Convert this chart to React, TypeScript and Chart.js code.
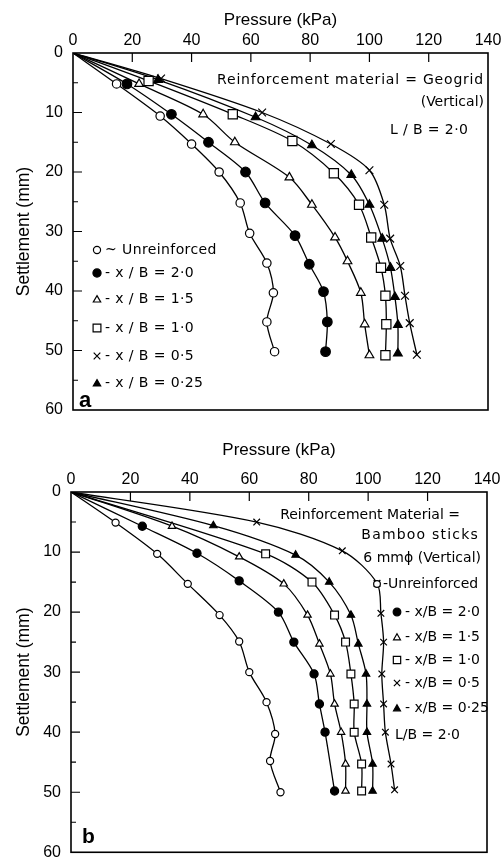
import React, { useEffect, useRef } from 'react';
import { Chart, registerables } from 'chart.js';

Chart.register(...registerables);

// ---------- data ----------
const pressureTicks = [0, 20, 40, 60, 80, 100, 120, 140];
const settlementTicks = [0, 10, 20, 30, 40, 50, 60];
const seriesLabels = ['Unreinforced', 'x/B = 2·0', 'x/B = 1·5', 'x/B = 1·0', 'x/B = 0·5', 'x/B = 0·25'];

// Panel a – Geogrid (vertical)
const aUnrP = [0, 14.7, 29.4, 40, 49.3, 56.4, 59.6, 65.4, 67.6, 65.4, 68];
const aUnrS = [0, 5.2, 10.6, 15.3, 20, 25.2, 30.3, 35.3, 40.3, 45.2, 50.2];
const aXB20P = [0, 18.2, 33.2, 45.7, 58.2, 64.8, 74.9, 79.7, 84.5, 85.8, 85.2];
const aXB20S = [0, 5.2, 10.3, 15, 20, 25.2, 30.7, 35.5, 40.1, 45.2, 50.2];
const aXB15P = [0, 22.3, 43.9, 54.6, 73, 80.6, 88.4, 92.6, 97.1, 98.4, 100];
const aXB15S = [0, 5.2, 10.3, 15, 20.9, 25.5, 31, 35, 40.3, 45.6, 50.8];
const aXB10P = [0, 25.5, 53.9, 74, 88, 96.5, 100.6, 103.9, 105.4, 105.7, 105.4];
const aXB10S = [0, 4.7, 10.3, 14.8, 20.2, 25.5, 31, 36.1, 40.8, 45.6, 50.8];
const aXB05P = [0, 29.7, 63.8, 87, 100, 105, 107, 110.4, 112, 113.6, 116];
const aXB05S = [0, 4.3, 10, 15.3, 19.7, 25.5, 31.2, 35.8, 40.8, 45.4, 50.7];
const aXB025P = [0, 28.7, 61.6, 80.6, 93.9, 100, 104.3, 107.1, 108.6, 109.6, 109.6];
const aXB025S = [0, 4.5, 10.8, 15.5, 20.5, 25.5, 31.2, 36.1, 41, 45.7, 50.5];

// Panel b – Bamboo sticks 6 mm (vertical)
const bUnrP = [0, 15, 29, 39.3, 50, 56.6, 60, 65.8, 68.7, 67, 70.5];
const bUnrS = [0, 5.1, 10.3, 15.3, 20.5, 24.9, 30, 35, 40.3, 44.8, 50];
const bXB20P = [0, 24, 42.4, 56.6, 69.8, 75, 81.8, 83.6, 85.5, 88.7];
const bXB20S = [0, 5.7, 10.2, 14.8, 20, 25, 30.3, 35.3, 40, 49.8];
const bXB15P = [0, 34, 56.6, 71.6, 79.6, 83.6, 87.3, 88.7, 90.9, 92.4, 92.4];
const bXB15S = [0, 5.7, 10.8, 15.3, 20.5, 25.3, 30.3, 35.3, 40, 45.3, 49.8];
const bXB10P = [0, 65.5, 81.1, 88.7, 92.4, 94.2, 95.3, 95.3, 97.8, 97.8];
const bXB10S = [0, 10.3, 15, 20.5, 25, 30.3, 35.3, 40, 45.3, 49.8];
const bXB05P = [0, 62.5, 91.3, 103, 104.3, 105.2, 104.6, 105.2, 105.8, 107.7, 108.9];
const bXB05S = [0, 5, 9.8, 15.2, 20.2, 25, 30.3, 35.3, 40, 45.3, 49.6];
const bXB025P = [0, 47.9, 75.6, 86.9, 94.2, 96.7, 99.3, 99.6, 99.6, 101.5, 101.5];
const bXB025S = [0, 5.6, 10.5, 15, 20.5, 25.3, 30.3, 35.3, 40, 45.3, 49.8];

// ---------- styles ----------
const markerStyles = [
  { style: 'circle', fill: '#fff', r: 4.2 },
  { style: 'circle', fill: '#000', r: 4.8 },
  { style: 'triangle', fill: '#fff', r: 5 },
  { style: 'rect', fill: '#fff', r: 6.5 },
  { style: 'crossRot', fill: '#fff', r: 5.5 },
  { style: 'triangle', fill: '#000', r: 5 },
];

const FONT = '"Liberation Sans", Arial, sans-serif';
const ANN = '"DejaVu Sans", sans-serif';

function drawMarker(ctx: CanvasRenderingContext2D, i: number, x: number, y: number, k: number) {
  const st = markerStyles[i];
  const r = st.r * k;
  ctx.save();
  ctx.lineWidth = 1.2;
  ctx.strokeStyle = '#000';
  ctx.fillStyle = st.fill;
  ctx.beginPath();
  if (st.style === 'circle') {
    ctx.arc(x, y, r, 0, Math.PI * 2);
    ctx.fill();
    ctx.stroke();
  } else if (st.style === 'triangle') {
    for (let j = 0; j < 3; j++) {
      const a = -Math.PI / 2 + (j * 2 * Math.PI) / 3;
      const px = x + Math.cos(a) * r;
      const py = y + Math.sin(a) * r + r * 0.2;
      if (j === 0) ctx.moveTo(px, py);
      else ctx.lineTo(px, py);
    }
    ctx.closePath();
    ctx.fill();
    ctx.stroke();
  } else if (st.style === 'rect') {
    const s = r * Math.SQRT1_2;
    ctx.rect(x - s, y - s, 2 * s, 2 * s);
    ctx.fill();
    ctx.stroke();
  } else {
    const s = r * Math.SQRT1_2;
    ctx.moveTo(x - s, y - s);
    ctx.lineTo(x + s, y + s);
    ctx.moveTo(x + s, y - s);
    ctx.lineTo(x - s, y + s);
    ctx.stroke();
  }
  ctx.restore();
}

function makeDatasets(series: { p: number[]; s: number[] }[], k: number) {
  return series.map((sr, i) => ({
    label: seriesLabels[i],
    data: sr.p.map((p, j) => ({ x: p, y: sr.s[j] })),
    showLine: true,
    borderColor: '#000',
    borderWidth: 1.3,
    tension: 0.3,
    pointStyle: markerStyles[i].style,
    pointBackgroundColor: markerStyles[i].fill,
    pointBorderColor: '#000',
    pointBorderWidth: 1.2,
    pointRadius: (c: any) => (c.dataIndex === 0 ? 0 : markerStyles[i].r * k),
  }));
}

function framePlugin(annotate: (ctx: CanvasRenderingContext2D) => void) {
  return {
    id: 'frame',
    afterDraw(chart: any) {
      const { ctx, chartArea: a, scales } = chart;
      ctx.save();
      ctx.strokeStyle = '#000';
      ctx.lineWidth = 1.6;
      ctx.strokeRect(a.left, a.top, a.right - a.left, a.bottom - a.top);
      ctx.lineWidth = 1.2;
      ctx.beginPath();
      pressureTicks.forEach((v) => {
        if (v === 0 || v === 140) return;
        const x = scales.x.getPixelForValue(v);
        ctx.moveTo(x, a.top);
        ctx.lineTo(x, a.top + 9);
      });
      for (let v = 5; v < 60; v += 5) {
        const y = scales.y.getPixelForValue(v);
        const len = v % 10 === 0 ? 9 : 5;
        ctx.moveTo(a.left, y);
        ctx.lineTo(a.left + len, y);
      }
      ctx.stroke();
      ctx.fillStyle = '#000';
      annotate(ctx);
      ctx.restore();
    },
  };
}

function makeConfig(series: { p: number[]; s: number[] }[], k: number, xH: number, yW: number, pad: any, annotate: any) {
  return {
    type: 'scatter',
    data: { datasets: makeDatasets(series, k) },
    options: {
      animation: false,
      responsive: false,
      devicePixelRatio: 1,
      layout: { padding: pad },
      plugins: { legend: { display: false }, tooltip: { enabled: false } },
      scales: {
        x: {
          type: 'linear',
          position: 'top',
          min: 0,
          max: 140,
          afterBuildTicks: (s: any) => {
            s.ticks = pressureTicks.map((v) => ({ value: v }));
          },
          ticks: { padding: 3, color: '#000', font: { size: 16, family: FONT } },
          grid: { display: false, drawTicks: false },
          border: { display: false },
          title: { display: true, text: 'Pressure (kPa)', color: '#000', font: { size: 17, family: FONT }, padding: { top: 10, bottom: 0 } },
          afterFit: (s: any) => {
            s.height = xH;
            s.paddingLeft = 0;
            s.paddingRight = 0;
          },
        },
        y: {
          type: 'linear',
          reverse: true,
          min: 0,
          max: 60,
          afterBuildTicks: (s: any) => {
            s.ticks = settlementTicks.map((v) => ({ value: v }));
          },
          ticks: { padding: 10, color: '#000', font: { size: 16, family: FONT } },
          grid: { display: false, drawTicks: false },
          border: { display: false },
          title: { display: true, text: 'Settlement (mm)', color: '#000', font: { size: 17.5, family: FONT }, padding: { top: 14, bottom: 0 } },
          afterFit: (s: any) => {
            s.width = yW;
            s.paddingTop = 0;
            s.paddingBottom = 0;
          },
        },
      },
    },
    plugins: [framePlugin(annotate)],
  };
}

const annotateA = (ctx: CanvasRenderingContext2D) => {
  ctx.font = `14px ${ANN}`;
  ctx.textBaseline = 'middle';
  ctx.textAlign = 'right';
  (ctx as any).letterSpacing = '0.8px';
  ctx.fillText('Reinforcement material = Geogrid', 484, 80);
  (ctx as any).letterSpacing = '0px';
  ctx.fillText('(Vertical)', 484, 102);
  ctx.textAlign = 'left';
  (ctx as any).letterSpacing = '0.4px';
  ctx.fillText('L / B = 2·0', 390, 130);
  const rows = [250, 273, 299, 328, 356, 383];
  const texts = ['~ Unreinforced', '- x / B = 2·0', '- x / B = 1·5', '- x / B = 1·0', '- x / B = 0·5', '- x / B = 0·25'];
  rows.forEach((y, i) => {
    drawMarker(ctx, i, 97, y, 0.85);
    ctx.fillText(texts[i], 105, y);
  });
  (ctx as any).letterSpacing = '0px';
  ctx.font = `bold 22px ${FONT}`;
  ctx.textBaseline = 'alphabetic';
  ctx.fillText('a', 79, 407);
};

const annotateB = (ctx: CanvasRenderingContext2D) => {
  ctx.font = `14px ${ANN}`;
  ctx.textBaseline = 'middle';
  ctx.textAlign = 'right';
  ctx.fillText('Reinforcement Material =', 460, 85);
  (ctx as any).letterSpacing = '1.2px';
  ctx.fillText('Bamboo sticks', 479, 105);
  (ctx as any).letterSpacing = '0px';
  ctx.fillText('6 mmϕ (Vertical)', 481, 128);
  ctx.textAlign = 'left';
  drawMarker(ctx, 0, 377, 154, 0.8);
  ctx.fillText('-Unreinforced', 383, 154);
  const rows = [182, 207, 230, 253, 278];
  const texts = ['- x/B = 2·0', '- x/B = 1·5', '- x/B = 1·0', '- x/B = 0·5', '- x/B = 0·25'];
  rows.forEach((y, i) => {
    drawMarker(ctx, i + 1, 397, y, 0.8);
    ctx.fillText(texts[i], 405, y);
  });
  ctx.fillText('L/B = 2·0', 395, 305);
  ctx.font = `bold 21px ${FONT}`;
  ctx.textBaseline = 'alphabetic';
  ctx.fillText('b', 82, 413);
};

export default function App() {
  const refA = useRef<HTMLCanvasElement>(null);
  const refB = useRef<HTMLCanvasElement>(null);

  useEffect(() => {
    const seriesA = [
      { p: aUnrP, s: aUnrS },
      { p: aXB20P, s: aXB20S },
      { p: aXB15P, s: aXB15S },
      { p: aXB10P, s: aXB10S },
      { p: aXB05P, s: aXB05S },
      { p: aXB025P, s: aXB025S },
    ];
    const seriesB = [
      { p: bUnrP, s: bUnrS },
      { p: bXB20P, s: bXB20S },
      { p: bXB15P, s: bXB15S },
      { p: bXB10P, s: bXB10S },
      { p: bXB05P, s: bXB05S },
      { p: bXB025P, s: bXB025S },
    ];
    const cA = new Chart(refA.current as any, makeConfig(seriesA, 1, 53, 73, { left: 0, top: 0, right: 13, bottom: 20 }, annotateA) as any);
    const cB = new Chart(refB.current as any, makeConfig(seriesB, 0.85, 62, 71, { left: 0, top: 0, right: 14, bottom: 6 }, annotateB) as any);
    return () => {
      cA.destroy();
      cB.destroy();
    };
  }, []);

  return (
    <div style={{ position: 'absolute', left: 0, top: 0, width: 501, height: 859, background: '#fff' }}>
      <canvas ref={refA} width={501} height={430} style={{ position: 'absolute', left: 0, top: 0, width: 501, height: 430 }} />
      <canvas ref={refB} width={501} height={429} style={{ position: 'absolute', left: 0, top: 430, width: 501, height: 429 }} />
    </div>
  );
}
